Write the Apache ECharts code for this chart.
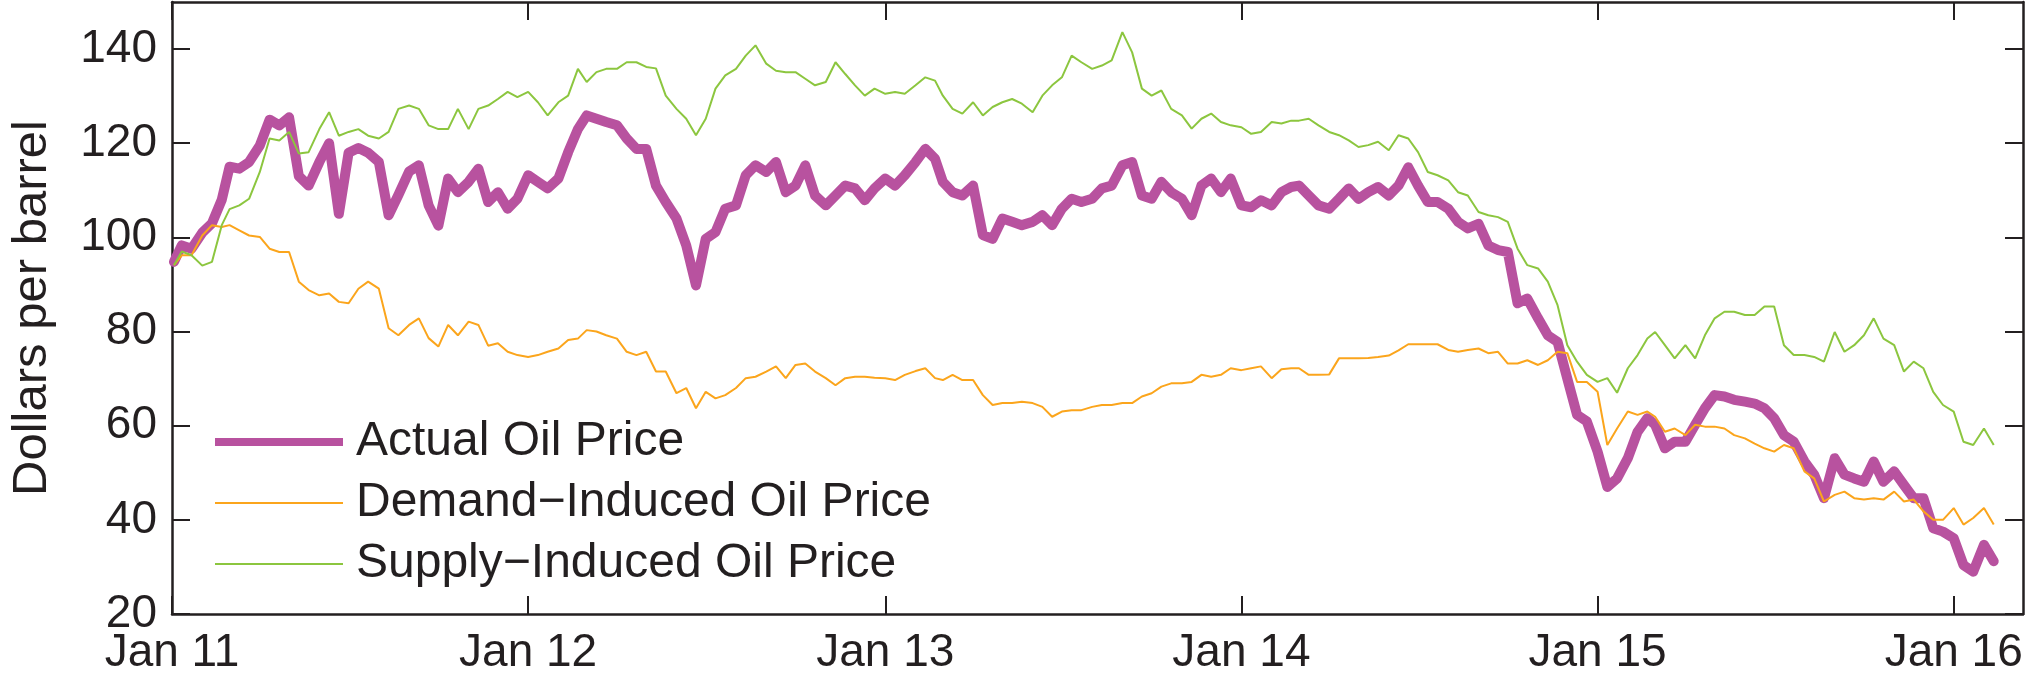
<!DOCTYPE html>
<html>
<head>
<meta charset="utf-8">
<script src="https://cdn.jsdelivr.net/npm/echarts@6/dist/echarts.min.js"></script>
<style>
html,body{margin:0;padding:0;background:#fff;}
#chart{width:2027px;height:676px;}
</style>
</head>
<body>
<div id="chart"></div>
<script>
const seriesNames = ['Actual Oil Price', 'Demand\u2212Induced Oil Price', 'Supply\u2212Induced Oil Price'];
const yTickValues = [20, 40, 60, 80, 100, 120, 140];
const xTickDates = ['2011-01-01', '2012-01-01', '2013-01-01', '2014-01-01', '2015-01-01', '2016-01-01'];

const dates = [
  '2011-01-03','2011-01-11','2011-01-21','2011-02-01','2011-02-11','2011-02-21','2011-03-01','2011-03-11','2011-03-21','2011-04-01','2011-04-11','2011-04-21',
  '2011-05-01','2011-05-11','2011-05-21','2011-06-01','2011-06-11','2011-06-21','2011-07-01','2011-07-11','2011-07-21','2011-08-01','2011-08-11','2011-08-21',
  '2011-09-01','2011-09-11','2011-09-21','2011-10-01','2011-10-11','2011-10-21','2011-11-01','2011-11-11','2011-11-21','2011-12-01','2011-12-11','2011-12-21',
  '2012-01-01','2012-01-11','2012-01-21','2012-02-01','2012-02-11','2012-02-21','2012-03-01','2012-03-11','2012-03-21','2012-04-01','2012-04-11','2012-04-21',
  '2012-05-01','2012-05-11','2012-05-21','2012-06-01','2012-06-11','2012-06-21','2012-07-01','2012-07-11','2012-07-21','2012-08-01','2012-08-11','2012-08-21',
  '2012-09-01','2012-09-11','2012-09-21','2012-10-01','2012-10-11','2012-10-21','2012-11-01','2012-11-11','2012-11-21','2012-12-01','2012-12-11','2012-12-21',
  '2013-01-01','2013-01-11','2013-01-21','2013-02-01','2013-02-11','2013-02-21','2013-03-01','2013-03-11','2013-03-21','2013-04-01','2013-04-11','2013-04-21',
  '2013-05-01','2013-05-11','2013-05-21','2013-06-01','2013-06-11','2013-06-21','2013-07-01','2013-07-11','2013-07-21','2013-08-01','2013-08-11','2013-08-21',
  '2013-09-01','2013-09-11','2013-09-21','2013-10-01','2013-10-11','2013-10-21','2013-11-01','2013-11-11','2013-11-21','2013-12-01','2013-12-11','2013-12-21',
  '2014-01-01','2014-01-11','2014-01-21','2014-02-01','2014-02-11','2014-02-21','2014-03-01','2014-03-11','2014-03-21','2014-04-01','2014-04-11','2014-04-21',
  '2014-05-01','2014-05-11','2014-05-21','2014-06-01','2014-06-11','2014-06-21','2014-07-01','2014-07-11','2014-07-21','2014-08-01','2014-08-11','2014-08-21',
  '2014-09-01','2014-09-11','2014-09-21','2014-10-01','2014-10-11','2014-10-21','2014-11-01','2014-11-11','2014-11-21','2014-12-01','2014-12-11','2014-12-21',
  '2015-01-01','2015-01-11','2015-01-21','2015-02-01','2015-02-11','2015-02-21','2015-03-01','2015-03-11','2015-03-21','2015-04-01','2015-04-11','2015-04-21',
  '2015-05-01','2015-05-11','2015-05-21','2015-06-01','2015-06-11','2015-06-21','2015-07-01','2015-07-11','2015-07-21','2015-08-01','2015-08-11','2015-08-21',
  '2015-09-01','2015-09-11','2015-09-21','2015-10-01','2015-10-11','2015-10-21','2015-11-01','2015-11-11','2015-11-21','2015-12-01','2015-12-11','2015-12-21',
  '2016-01-01','2016-01-11','2016-01-21','2016-02-01','2016-02-11'
];

const actualPrice = [
  94.8,98.3,97.6,101,103,108,115,114.6,116,119.5,125,123.8,
  125.5,113,111,116,120,105,118,119,118,116,104.7,109,
  114,115.3,106.8,102.5,112.5,109.6,111.8,114.6,107.5,109.6,106.1,108.2,
  113.2,111.8,110.4,112.5,118.1,123,125.9,125.2,124.5,123.8,121,118.8,
  118.8,111,107.5,104,98.3,89.8,99.7,101.1,106.1,106.8,113.2,115.3,
  113.9,116,109.6,111,115.3,108.9,106.8,108.9,111,110.4,107.9,110.4,
  112.5,111,113.2,116,118.8,116.7,111.8,109.6,108.9,111,100.5,99.7,
  104,103.3,102.6,103.3,104.7,102.6,106.1,108.2,107.5,108.2,110.4,111,
  115.3,116,108.9,108.2,111.8,109.6,108.2,104.7,111,112.5,109.6,112.5,
  106.8,106.4,107.9,106.8,109.6,110.7,111,108.9,106.8,106.1,108.2,110.4,
  108.2,109.6,110.7,108.9,111,114.9,111,107.5,107.5,106.1,103.3,101.9,
  102.9,98.3,97.3,96.9,86,87,82.8,79.2,77.8,70,62.3,60.9,
  54.5,47,48.8,53.1,58.7,61.6,60.2,55.2,56.6,56.6,60.2,63.7,
  66.5,66.2,65.5,65.1,64.7,63.7,61.6,58,56.6,52.4,49.6,44.6,
  53.1,49.6,48.8,48.1,52.4,48.1,50.3,47.4,44.6,44.6,38.2,37.5,
  36.1,30.4,29,34.7,31.2
];

const demandPrice = [
  94.1,96.2,96.2,100.4,102.6,102.2,102.6,101.5,100.4,100.1,97.6,96.9,
  96.9,90.6,88.8,87.7,88.1,86.3,86,89.1,90.6,89.1,80.7,79.2,
  81.4,82.8,78.6,76.8,81.4,79.2,82.1,81.4,77,77.5,75.7,75,
  74.6,75,75.7,76.4,78.2,78.5,80.3,80,79.2,78.5,75.7,75,
  75.7,71.5,71.5,66.9,68,63.7,67.2,65.8,66.5,68,70.1,70.4,
  71.5,72.6,70.1,72.9,73.2,71.5,70.1,68.6,70.1,70.4,70.4,70.2,
  70.1,69.7,70.8,71.6,72.2,70.1,69.7,70.8,69.7,69.7,66.5,64.4,
  64.8,64.8,65.1,64.8,64,61.9,63,63.3,63.3,64,64.4,64.4,
  64.8,64.8,66.2,66.9,68.3,69,69,69.3,70.8,70.4,70.8,72.2,
  71.8,72.2,72.6,70.1,72,72.2,72.2,70.8,70.8,70.9,74.3,74.3,
  74.3,74.4,74.6,74.9,76,77.3,77.3,77.3,77.3,76.1,75.7,76.1,
  76.4,75.4,75.7,73.2,73.2,73.9,72.9,73.9,75.7,75.4,69.3,69.3,
  67.2,55.9,59.4,63,62.3,63,61.9,58.7,59.4,58,60.2,59.8,
  59.8,59.4,58,57.3,56.2,55.2,54.5,55.9,55.2,50.3,48.8,43.9,
  45.3,46,44.6,44.3,44.6,44.3,46,43.9,44.3,41.8,40,40,
  42.5,39,40.4,42.5,39
];

const supplyPrice = [
  94.1,97,96.2,94,94.8,102.6,106,106.8,108.2,113.9,121,120.6,
  122.4,117.8,118.1,123,126.6,121.6,122.4,123,121.6,121,122.4,127.3,
  128,127.3,123.8,123,123,127.3,123,127.3,128,129.4,130.9,129.8,
  130.9,128.7,125.9,128.7,130.1,135.8,133,135.1,135.8,135.8,137.2,137.2,
  136.2,135.9,130.1,127.3,125.2,121.7,125.2,131.6,134.4,135.8,138.6,140.8,
  136.9,135.4,135.1,135.1,133.7,132.3,133,137.2,134.7,132.3,130.1,131.6,
  130.5,130.9,130.5,132.3,134,133.3,130.1,127.3,126.3,128.7,125.9,127.7,
  128.7,129.4,128.4,126.6,130.1,132.3,134,138.6,137.2,135.8,136.5,137.6,
  143.6,139.3,131.6,130.1,131.2,127.3,125.9,123.1,125.2,126.3,124.5,123.8,
  123.4,122,122.4,124.5,124.2,124.8,124.8,125.2,123.8,122.4,121.7,120.6,
  119.2,119.6,120.3,118.5,121.7,121,118.1,113.9,113.2,112.1,109.6,108.9,
  105.4,104.7,104.3,103.3,97.6,94.1,93.4,90.6,85.6,77.1,73.6,70.8,
  69.3,70.1,67,72.2,75,78.5,79.9,77.1,74.3,77.1,74.3,79.2,
  82.8,84.2,84.2,83.5,83.5,85.3,85.3,77.1,75,75,74.6,73.6,
  79.9,75.7,77.1,79.2,82.8,78.5,77.1,71.5,73.6,72.2,67.2,64.4,
  63,56.6,55.9,59.4,55.9
];

const FONT = 'Liberation Sans, Arial, Helvetica, sans-serif';
const INK = '#231f20';
const COLORS = ['#b8529f', '#fba51c', '#8cc63f'];
const LINE_WIDTHS = [10, 2, 2];
const parse = (s) => +echarts.time.parse(s);
const xTickValues = xTickDates.map(parse);
const xMin = parse('2011-01-01');
const xMax = parse('2016-03-12');

function pairs(vals) { return dates.map((d, i) => [parse(d), vals[i]]); }

const axisLineStyle = { show: true, onZero: false, lineStyle: { color: INK, width: 2.5 } };
const tickStyle = { color: INK, width: 2 };

const legendIcons = [
  'path://M0,0H128V8H0Z',
  'path://M0,0H128V2.2H0Z',
  'path://M0,0H128V2.2H0Z'
];

const chart = echarts.init(document.getElementById('chart'), null, { renderer: 'canvas' });
chart.setOption({
  animation: false,
  backgroundColor: '#ffffff',
  grid: { left: 163, right: 4, top: 2, bottom: 60, containLabel: false },
  legend: {
    orient: 'vertical',
    left: 210,
    top: 413,
    itemWidth: 128,
    itemHeight: 12,
    itemGap: 13,
    symbolKeepAspect: true,
    data: seriesNames.map((n, i) => ({ name: n, icon: legendIcons[i], itemStyle: { color: COLORS[i], borderWidth: 0 } })),
    textStyle: { fontSize: 48, fontFamily: FONT, color: INK, padding: [0, 0, 0, 8] },
    selectedMode: false
  },
  xAxis: [
    {
      type: 'value', min: xMin, max: xMax, position: 'bottom',
      axisLine: axisLineStyle,
      axisTick: { show: true, inside: true, length: 18, lineStyle: tickStyle, customValues: xTickValues },
      axisLabel: {
        customValues: xTickValues,
        formatter: (v) => 'Jan ' + String(new Date(v).getFullYear()).slice(2),
        fontSize: 46, fontFamily: FONT, color: INK, margin: 16
      },
      splitLine: { show: false }
    },
    {
      type: 'value', min: xMin, max: xMax, position: 'top',
      axisLine: axisLineStyle,
      axisTick: { show: true, inside: true, length: 18, lineStyle: tickStyle, customValues: xTickValues },
      axisLabel: { show: false, customValues: xTickValues },
      splitLine: { show: false }
    }
  ],
  yAxis: [
    {
      type: 'value', min: 20, max: 150, position: 'left',
      axisLine: axisLineStyle,
      axisTick: { show: true, inside: true, length: 18, lineStyle: tickStyle, customValues: yTickValues },
      axisLabel: { customValues: yTickValues, fontSize: 46, fontFamily: FONT, color: INK, margin: 15 },
      splitLine: { show: false },
      name: 'Dollars per barrel',
      nameLocation: 'middle',
      nameGap: 115,
      nameTextStyle: { fontSize: 49, fontFamily: FONT, color: INK }
    },
    {
      type: 'value', min: 20, max: 150, position: 'right',
      axisLine: axisLineStyle,
      axisTick: { show: true, inside: true, length: 18, lineStyle: tickStyle, customValues: yTickValues },
      axisLabel: { show: false, customValues: yTickValues },
      splitLine: { show: false }
    }
  ],
  series: [
    {
      name: seriesNames[0], type: 'line', symbol: 'none', showSymbol: false,
      data: pairs(actualPrice),
      lineStyle: { width: LINE_WIDTHS[0], color: COLORS[0], join: 'round', cap: 'round' },
      itemStyle: { color: COLORS[0] }, z: 2
    },
    {
      name: seriesNames[1], type: 'line', symbol: 'none', showSymbol: false,
      data: pairs(demandPrice),
      lineStyle: { width: LINE_WIDTHS[1], color: COLORS[1] },
      itemStyle: { color: COLORS[1] }, z: 3
    },
    {
      name: seriesNames[2], type: 'line', symbol: 'none', showSymbol: false,
      data: pairs(supplyPrice),
      lineStyle: { width: LINE_WIDTHS[2], color: COLORS[2] },
      itemStyle: { color: COLORS[2] }, z: 4
    }
  ]
});
</script>
</body>
</html>
